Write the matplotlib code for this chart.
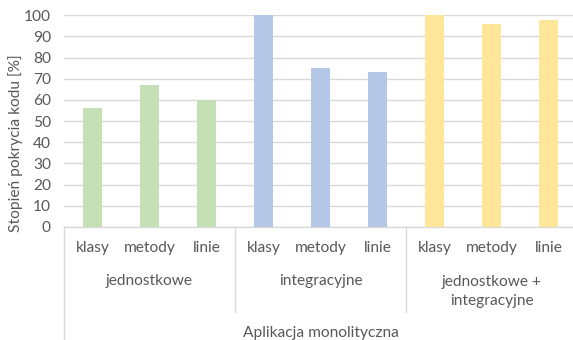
import matplotlib
matplotlib.use("Agg")
import matplotlib.pyplot as plt
from matplotlib.lines import Line2D

metrics = ["klasy", "metody", "linie"]
groups = ["jednostkowe", "integracyjne", "jednostkowe +\nintegracyjne"]
outer_label = "Aplikacja monolityczna"
values_jednostkowe = [56, 67, 60]
values_integracyjne = [100, 75, 73]
values_oba = [100, 96, 98]
group_colors = ["#c5e0b4", "#b4c7e7", "#ffe699"]
ylabel = "Stopień pokrycia kodu [%]"
yticks = list(range(0, 101, 10))

plt.rcParams['font.family'] = ['Lato', 'DejaVu Sans']
TXT = "#595959"
FS = 11.2

W, H = 573, 340
fig = plt.figure(figsize=(W / 100, H / 100), dpi=100)
x0, x1 = 64, 577
ytop, ybot = 15.3, 227
ax = fig.add_axes([x0 / W, (H - ybot) / H, (x1 - x0) / W, (ybot - ytop) / H])

all_vals = [values_jednostkowe, values_integracyjne, values_oba]
for g, (vals, col) in enumerate(zip(all_vals, group_colors)):
    xs = [g * 3 + i for i in range(len(vals))]
    ax.bar(xs, vals, width=0.32, color=col, zorder=3)

ax.set_xlim(-0.5, 8.5)
ax.set_ylim(0, 100)
ax.set_yticks(yticks)
ax.yaxis.grid(True, color="#d9d9d9", linewidth=1.0, zorder=0)
ax.tick_params(axis='y', length=0, pad=9.4, labelsize=FS, labelcolor=TXT)
ax.set_xticks([])
for s in ["top", "right", "left"]:
    ax.spines[s].set_visible(False)
ax.spines["bottom"].set_color("#d9d9d9")
ax.spines["bottom"].set_linewidth(1.0)

# multi-level category axis
def fy(py):
    return (H - py) / H

def fx_data(xd):
    return (x0 + (xd + 0.5) * (x1 - x0) / 9) / W

fig.text(16 / W, fy(143), ylabel, rotation=90, ha="center", va="center",
         fontsize=FS, color=TXT)

lc = "#d9d9d9"
fig.add_artist(Line2D([x0 / W, x0 / W], [fy(ybot), 0], color=lc, lw=1.0))
for b in [2.5, 5.5]:
    fig.add_artist(Line2D([fx_data(b), fx_data(b)], [fy(ybot), fy(312)], color=lc, lw=1.0))

for g in range(3):
    for i, m in enumerate(metrics):
        fig.text(fx_data(g * 3 + i), fy(248), m, ha="center", va="center",
                 fontsize=FS, color=TXT)
    fig.text(fx_data(g * 3 + 1), fy(291.5) if "\n" in groups[g] else fy(281.5),
             groups[g], ha="center", va="center", fontsize=FS, color=TXT,
             linespacing=1.4)

fig.text(fx_data(4), fy(333), outer_label, ha="center", va="center",
         fontsize=FS, color=TXT)

fig.savefig("out.png", dpi=100)
